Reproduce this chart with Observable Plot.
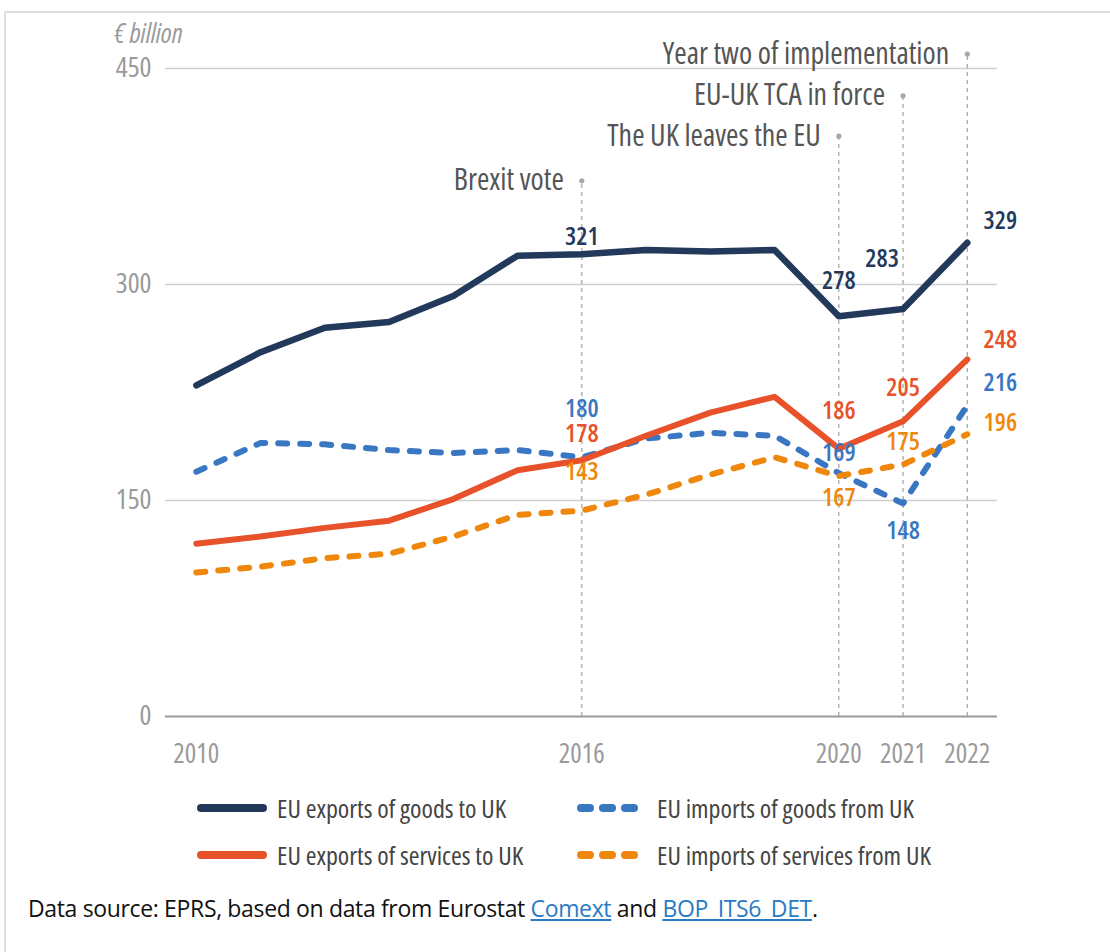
<!DOCTYPE html>
<html>
<head>
<meta charset="utf-8">
<script src="https://cdn.jsdelivr.net/npm/d3@7"></script>
<script src="https://cdn.jsdelivr.net/npm/@observablehq/plot@0.6"></script>
<style>
  html, body { margin: 0; padding: 0; background: #fff; }
  body { width: 1110px; height: 952px; position: relative; overflow: hidden;
         font-family: 'Open Sans', sans-serif; }
  #frame { position: absolute; left: 4px; top: 11px; width: 1200px; height: 1000px;
           border-top: 2px solid #dedede; border-left: 2px solid #dedede; }
  #chart { position: absolute; left: 0; top: 0; }
  #chart svg { font-family: 'Open Sans', sans-serif; font-stretch: 75%; }
  #legend { position: absolute; left: 0; top: 780px; width: 1110px; }
  .item { position: absolute; display: flex; align-items: center; font-size: 26px; color: #444;
          font-stretch: 75%; line-height: 1; white-space: nowrap; }
  .item svg { margin-right: 10px; }
  #source { position: absolute; left: 28px; top: 897px; font-size: 23px; color: #111;
            font-stretch: 100%; letter-spacing: -0.35px; line-height: 1; white-space: nowrap; }
  #source a { color: #2a7bc4; text-decoration: underline; }
</style>
</head>
<body>
<div id="frame"></div>
<div id="chart"></div>
<div id="legend"></div>
<div id="source">Data source: EPRS, based on data from Eurostat <a>Comext</a> and <a>BOP_ITS6_DET</a>.</div>
<script>
// ---- data ----
const years = [2010, 2011, 2012, 2013, 2014, 2015, 2016, 2017, 2018, 2019, 2020, 2021, 2022];
const goodsExports    = [230, 253, 270, 274, 292, 320, 321, 324, 323, 324, 278, 283, 329];
const goodsImports    = [170, 190, 189, 185, 183, 185, 180, 193, 197, 195, 169, 148, 216];
const servicesExports = [120, 125, 131, 136, 151, 171, 178, 195, 211, 222, 186, 205, 248];
const servicesImports = [100, 104, 110, 113, 125, 140, 143, 154, 168, 180, 167, 175, 196];
const seriesNames = ["EU exports of goods to UK", "EU imports of goods from UK",
                     "EU exports of services to UK", "EU imports of services from UK"];
const labelledYears = [2016, 2020, 2021, 2022];
const eventYears = [2016, 2020, 2021, 2022];
const eventLabels = ["Brexit vote", "The UK leaves the EU", "EU-UK TCA in force", "Year two of implementation"];
const yTicks = [0, 150, 300, 450];
const xTicks = [2010, 2016, 2020, 2021, 2022];
const unitLabel = "€ billion";

// ---- styles / layout ----
const seriesValues = [goodsExports, goodsImports, servicesExports, servicesImports];
const colors = ["#22395b", "#3a77c2", "#e8522a", "#ef870c"];
const dashes = [null, "9,13", null, "9,13"];
const widths = [6.5, 6, 6, 6];
// label offsets [series][labelled year index] -> [dx, dy] in pixels
const labelOffsets = [
  [[0, -17], [0, -35], [-21, -50], [33, -22]],
  [[0, -48], [0, -20], [0, 28], [33, -22]],
  [[0, -26], [0, -38], [0, -33], [33, -19]],
  [[0, -39], [0, 22], [0, -23], [33, -11]]
];
const eventTops = [372, 403, 431, 460];

const marks = [];
marks.push(Plot.ruleY(yTicks.filter(d => d > 0), {y: d => d, stroke: "#cfcfcf", strokeWidth: 1.5}));
marks.push(Plot.ruleY([0], {stroke: "#9a9a9a", strokeWidth: 2}));

// event lines
const events = eventYears.map((y, i) => ({year: y, label: eventLabels[i], top: eventTops[i]}));
marks.push(Plot.ruleX(events, {x: "year", y1: 0, y2: "top", stroke: "#a8a8a8", strokeWidth: 1.3, strokeDasharray: "4,4"}));
marks.push(Plot.dot(events, {x: "year", y: "top", r: 2.6, fill: "#a8a8a8", stroke: null}));
marks.push(Plot.text(events, {x: "year", y: "top", text: "label", textAnchor: "end", dx: -18, fill: "#555", fontSize: 30}));

// lines
seriesValues.forEach((vals, s) => {
  const data = years.map((yr, i) => ({year: yr, value: vals[i]}));
  marks.push(Plot.line(data, {x: "year", y: "value", stroke: colors[s], strokeWidth: widths[s],
    strokeDasharray: dashes[s], strokeLinecap: "round", strokeLinejoin: "round"}));
});

// value labels
seriesValues.forEach((vals, s) => {
  labelledYears.forEach((yr, j) => {
    const v = vals[years.indexOf(yr)];
    marks.push(Plot.text([{year: yr, value: v}], {x: "year", y: "value", text: d => String(d.value),
      fill: colors[s], fontSize: 25, fontWeight: 600,
      dx: labelOffsets[s][j][0], dy: labelOffsets[s][j][1]}));
  });
});

// axes
marks.push(Plot.axisY({ticks: yTicks, tickSize: 0, tickPadding: 14, fill: "#9a9a9a", fontSize: 28, label: null}));
marks.push(Plot.axisX({ticks: xTicks, tickFormat: d => String(d), tickSize: 0, tickPadding: 27, fill: "#9a9a9a", fontSize: 27, label: null}));
marks.push(Plot.text([unitLabel], {frameAnchor: "top-left", text: d => d, textAnchor: "start", lineAnchor: "middle",
  dx: -51, dy: -34, fill: "#9a9a9a", fontSize: 27, fontStyle: "italic"}));

const chart = Plot.plot({
  width: 1110,
  height: 780,
  marginLeft: 165,
  marginRight: 113,
  marginTop: 68,
  marginBottom: 64,
  x: {domain: [2009.52, 2022.47]},
  y: {domain: [0, 450]},
  style: {fontFamily: "'Open Sans', sans-serif", background: "transparent", overflow: "visible"},
  marks
});
document.getElementById("chart").appendChild(chart);

// legend
const legendPos = [[197, 808], [577, 808], [197, 855], [577, 855]];
const legend = document.getElementById("legend");
seriesNames.forEach((name, s) => {
  const div = document.createElement("div");
  div.className = "item";
  div.style.left = legendPos[s][0] + "px";
  div.style.top = (legendPos[s][1] - 780 - 16) + "px";
  const dash = dashes[s] ? `stroke-dasharray="9,13"` : "";
  div.innerHTML = `<svg width="70" height="32"><line x1="4" y1="16" x2="66" y2="16" stroke="${colors[s]}" stroke-width="8" stroke-linecap="round" ${dash}/></svg><span>${name}</span>`;
  legend.appendChild(div);
});
</script>
</body>
</html>
